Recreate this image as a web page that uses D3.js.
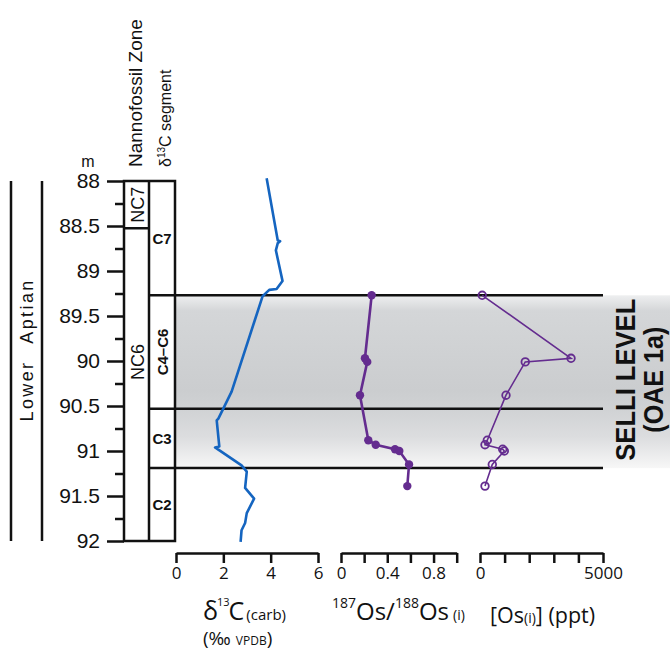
<!DOCTYPE html>
<html>
<head>
<meta charset="utf-8">
<script src="https://cdn.jsdelivr.net/npm/d3@7"></script>
<style>
  body { margin: 0; background: #fff; }
  svg { display: block; }
</style>
</head>
<body>
<svg id="chart" width="670" height="651"></svg>
<script>
// ---- data -------------------------------------------------------------
// depth ticks (m)
const depthMajor = [88, 88.5, 89, 89.5, 90, 90.5, 91, 91.5, 92];
const depthLabels = ["88", "88.5", "89", "89.5", "90", "90.5", "91", "91.5", "92"];
const depthMinor = [88.25, 88.75, 89.25, 89.75, 90.25, 90.75, 91.25, 91.75];

// nannofossil zones: names and boundaries (m)
const nannoNames = ["NC7", "NC6"];
const nannoBounds = [88, 88.525, 92];

// carbon-isotope segments: names and boundaries (m)
const segNames = ["C7", "C4–C6", "C3", "C2"];
const segBounds = [88, 89.27, 90.53, 91.19, 92];

// Selli Level (OAE 1a) interval
const selliTop = 89.27;
const selliBase = 91.19;

// bulk-carbonate d13C curve
const carbDepth = [87.97, 88.66, 88.67, 88.69, 88.77, 89.11, 89.2, 89.21, 89.28, 90.34, 90.64, 90.66, 90.95, 90.96, 91.16, 91.23, 91.41, 91.53, 91.69, 91.8, 91.88, 92.01];
const carbValue = [3.83, 4.3, 4.4, 4.3, 4.22, 4.5, 4.25, 3.94, 3.66, 2.35, 1.79, 1.72, 1.83, 1.65, 2.77, 2.99, 2.92, 3.3, 2.99, 2.92, 2.77, 2.73];

// osmium samples
const osDepth = [89.27, 89.97, 90.01, 90.38, 90.88, 90.93, 90.98, 91.0, 91.15, 91.39];
const osRatio = [0.265, 0.207, 0.227, 0.164, 0.236, 0.30, 0.467, 0.504, 0.588, 0.573];
const osConc = [90, 3700, 1840, 1057, 297, 203, 923, 988, 500, 203];

// bottom axis ticks
const carbTicks = [0, 2, 4, 6];
const ratioTicks = [0, 0.2, 0.4, 0.6, 0.8, 1.0];
const ratioLabels = ["0", "", "0.4", "", "0.8", ""];
const concTicks = [0, 1000, 2000, 3000, 4000, 5000];
const concLabels = ["0", "", "", "", "", "5000"];

// ---- drawing ----------------------------------------------------------
const svg = d3.select("#chart");
const ink = "#111";
const blue = "#1565c0";
const purple = "#642c8f";
const sans = "'Liberation Sans', Arial, sans-serif";
const narrow = "'Liberation Sans Narrow', 'Liberation Sans', Arial, sans-serif";
const open = "'Open Sans', 'Noto Sans', sans-serif";

const y = d3.scaleLinear().domain([88, 92]).range([181, 541]);
const xC = d3.scaleLinear().domain([0, 6]).range([176, 318]);
const xR = d3.scaleLinear().domain([0, 1]).range([341, 456.7]);
const xO = d3.scaleLinear().domain([0, 5000]).range([480, 603]);

const colL = 124, colM = 149, colR = 175;
const lineEnd = 603;

// shaded Selli interval
const defs = svg.append("defs");
const grad = defs.append("linearGradient")
  .attr("id", "selliShade").attr("x1", 0).attr("y1", 0).attr("x2", 0).attr("y2", 1);
[[0, "#eeeff0"], [0.09, "#d4d6d8"], [0.55, "#cbcdcf"], [0.66, "#d0d2d4"], [0.82, "#dcdddf"], [1, "#f7f7f7"]]
  .forEach(([o, c]) => grad.append("stop").attr("offset", o).attr("stop-color", c));

svg.append("rect")
  .attr("x", colR).attr("y", y(selliTop))
  .attr("width", 670 - colR).attr("height", y(selliBase) - y(selliTop))
  .attr("fill", "url(#selliShade)");

// stage bar: Lower Aptian
[11, 42].forEach(x => svg.append("line")
  .attr("x1", x).attr("x2", x).attr("y1", y(88)).attr("y2", y(92))
  .attr("stroke", ink).attr("stroke-width", 2.5));
[["Aptian", 311], ["Lower", 391]].forEach(([t, cy]) => svg.append("text")
  .attr("transform", `translate(33,${cy}) rotate(-90)`)
  .attr("text-anchor", "middle")
  .style("font-family", sans).style("font-size", "18px").style("letter-spacing", "2.4px")
  .attr("fill", ink).text(t));

// depth axis
const axisMajor = d3.axisLeft(y).tickValues(depthMajor).tickSize(17).tickPadding(7)
  .tickFormat((d, i) => depthLabels[i]);
const gMajor = svg.append("g").attr("transform", `translate(${colL},0)`).call(axisMajor);
gMajor.select(".domain").remove();
gMajor.selectAll("line").attr("stroke", ink).attr("stroke-width", 2.5);
gMajor.selectAll("text").style("font-family", sans).style("font-size", "21px").attr("fill", ink);

const axisMinor = d3.axisLeft(y).tickValues(depthMinor).tickSize(9).tickFormat("");
const gMinor = svg.append("g").attr("transform", `translate(${colL},0)`).call(axisMinor);
gMinor.select(".domain").remove();
gMinor.selectAll("line").attr("stroke", ink).attr("stroke-width", 2.5);

svg.append("text").attr("x", 88).attr("y", 167).attr("text-anchor", "middle")
  .style("font-family", sans).style("font-size", "16px").attr("fill", ink).text("m");

// column headers
svg.append("text").attr("transform", `translate(142,167) rotate(-90)`)
  .style("font-family", sans).style("font-size", "19px").attr("fill", ink)
  .text("Nannofossil Zone");
const segHead = svg.append("text").attr("transform", `translate(171,167) rotate(-90)`)
  .style("font-family", sans).style("font-size", "16px").attr("fill", ink);
segHead.append("tspan").text("δ");
segHead.append("tspan").attr("dy", -6).style("font-size", "10px").text("13");
segHead.append("tspan").attr("dy", 6).text("C segment");

// zone / segment columns
const frame = svg.append("g").attr("fill", "none").attr("stroke", ink).attr("stroke-width", 2.5);
frame.append("rect").attr("x", colL).attr("y", y(88)).attr("width", colR - colL).attr("height", y(92) - y(88));
frame.append("line").attr("x1", colM).attr("x2", colM).attr("y1", y(88)).attr("y2", y(92));
nannoBounds.slice(1, -1).forEach(d => frame.append("line")
  .attr("x1", colL).attr("x2", colM).attr("y1", y(d)).attr("y2", y(d)));
segBounds.slice(1, -1).forEach(d => frame.append("line")
  .attr("x1", colM).attr("x2", lineEnd).attr("y1", y(d)).attr("y2", y(d)));

nannoNames.forEach((n, i) => {
  const cy = n === "NC6" ? 362 : (y(nannoBounds[i]) + y(nannoBounds[i + 1])) / 2;
  svg.append("text").attr("transform", `translate(${(colL + colM) / 2 + 7},${cy}) rotate(-90)`)
    .attr("text-anchor", "middle")
    .style("font-family", sans).style("font-size", "18px").attr("fill", ink).text(n);
});
segNames.forEach((n, i) => {
  const cy = (y(segBounds[i]) + y(segBounds[i + 1])) / 2;
  const cx = (colM + colR) / 2;
  const t = svg.append("text").attr("text-anchor", "middle")
    .style("font-family", narrow).style("font-weight", "bold").style("font-size", "15px")
    .attr("fill", ink).text(n);
  if (n === "C4–C6") t.attr("transform", `translate(${cx + 5.5},${cy}) rotate(-90)`);
  else t.attr("x", cx).attr("y", cy + 5.5);
});

// d13C curve
const carbLine = d3.line().x(d => xC(d[1])).y(d => y(d[0]));
svg.append("path").datum(d3.zip(carbDepth, carbValue))
  .attr("d", carbLine).attr("fill", "none")
  .attr("stroke", blue).attr("stroke-width", 2.6).attr("stroke-linejoin", "round");

// 187Os/188Os(i)
const ratioPts = d3.zip(osDepth, osRatio);
svg.append("path").datum(ratioPts)
  .attr("d", d3.line().x(d => xR(d[1])).y(d => y(d[0])))
  .attr("fill", "none").attr("stroke", purple).attr("stroke-width", 2.6);
svg.append("g").selectAll("circle").data(ratioPts).join("circle")
  .attr("cx", d => xR(d[1])).attr("cy", d => y(d[0])).attr("r", 4.2).attr("fill", purple);

// [Os(i)]
const concPts = d3.zip(osDepth, osConc);
svg.append("path").datum(concPts)
  .attr("d", d3.line().x(d => xO(d[1])).y(d => y(d[0])))
  .attr("fill", "none").attr("stroke", purple).attr("stroke-width", 1.6);
svg.append("g").selectAll("circle").data(concPts).join("circle")
  .attr("cx", d => xO(d[1])).attr("cy", d => y(d[0])).attr("r", 3.8)
  .attr("fill", "none").attr("stroke", purple).attr("stroke-width", 1.8);

// Selli label
const selli = svg.append("g").attr("transform", `translate(0,${(y(selliTop) + y(selliBase)) / 2 - 2}) rotate(-90)`);
selli.append("text").attr("x", 0).attr("y", 635).attr("text-anchor", "middle")
  .attr("textLength", 162).attr("lengthAdjust", "spacingAndGlyphs")
  .style("font-family", narrow).style("font-weight", "bold").style("font-size", "28px")
  .attr("fill", ink).text("SELLI LEVEL");
selli.append("text").attr("x", 0).attr("y", 663).attr("text-anchor", "middle")
  .attr("textLength", 106).attr("lengthAdjust", "spacingAndGlyphs")
  .style("font-family", narrow).style("font-weight", "bold").style("font-size", "28px")
  .attr("fill", ink).text("(OAE 1a)");

// bottom axes
function bottomAxis(scale, ticks, labels) {
  const ax = d3.axisBottom(scale).tickValues(ticks).tickSize(10).tickSizeOuter(0).tickPadding(4)
    .tickFormat((d, i) => labels[i]);
  const g = svg.append("g").attr("transform", "translate(0,553)").call(ax);
  g.select(".domain").attr("stroke", ink).attr("stroke-width", 2.6);
  g.selectAll("line").attr("stroke", ink).attr("stroke-width", 2.5);
  g.selectAll("text").style("font-family", open).style("font-size", "17px").attr("fill", ink);
  return g;
}
bottomAxis(xC, carbTicks, carbTicks.map(String));
bottomAxis(xR, ratioTicks, ratioLabels);
bottomAxis(xO, concTicks, concLabels);

// axis titles
const tC = svg.append("text").attr("x", 203).attr("y", 620)
  .style("font-family", open).attr("fill", ink);
tC.append("tspan").style("font-size", "25px").text("δ");
tC.append("tspan").attr("dy", -14).attr("dx", -1).style("font-size", "11px").text("13");
tC.append("tspan").attr("dy", 14).attr("dx", -1).style("font-size", "25px").text("C");
tC.append("tspan").attr("dx", 2).style("font-size", "15px").text("(carb)");

const tU = svg.append("text").attr("x", 203).attr("y", 645)
  .style("font-family", open).style("font-size", "19px").attr("fill", ink);
tU.append("tspan").text("(‰ ");
tU.append("tspan").style("font-size", "12px").text("VPDB");
tU.append("tspan").text(")");

const tR = svg.append("text").attr("x", 332).attr("y", 620)
  .style("font-family", open).attr("fill", ink);
tR.append("tspan").attr("dy", -12).style("font-size", "14px").text("187");
tR.append("tspan").attr("dy", 12).style("font-size", "24px").text("Os/");
tR.append("tspan").attr("dy", -12).style("font-size", "14px").text("188");
tR.append("tspan").attr("dy", 12).style("font-size", "24px").text("Os");
tR.append("tspan").attr("dx", 4).style("font-size", "14px").text("(i)");

const tO = svg.append("text").attr("x", 490).attr("y", 623)
  .style("font-family", open).attr("fill", ink);
tO.append("tspan").style("font-size", "21.5px").text("[Os");
tO.append("tspan").style("font-size", "14px").text("(i)");
tO.append("tspan").style("font-size", "21.5px").text("] (ppt)");
</script>
</body>
</html>
